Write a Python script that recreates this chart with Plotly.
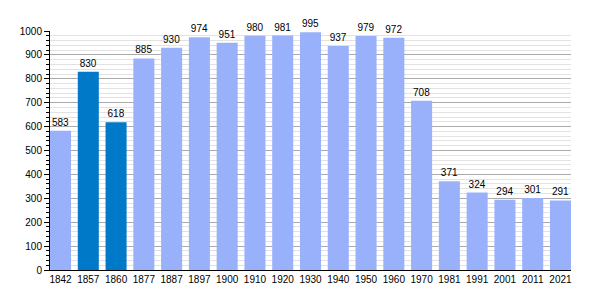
import plotly.graph_objects as go

years = ["1842", "1857", "1860", "1877", "1887", "1897", "1900", "1910", "1920", "1930",
         "1940", "1950", "1960", "1970", "1981", "1991", "2001", "2011", "2021"]
population = [583, 830, 618, 885, 930, 974, 951, 980, 981, 995,
              937, 979, 972, 708, 371, 324, 294, 301, 291]
highlight = ["1857", "1860"]

light = "#99b1fb"
dark = "#0079c8"
colors = [dark if y in highlight else light for y in years]

fig = go.Figure(go.Bar(
    x=years, y=population, marker=dict(color=colors, line=dict(width=0)),
    text=[str(v) for v in population], textposition="outside",
    textfont=dict(size=10, color="#000", family="Liberation Sans, Arial"),
    cliponaxis=False,
))

n = len(years)
wf = 0.7575
fig.update_layout(
    width=600, height=300,
    margin=dict(l=50, r=29, t=31, b=30),
    paper_bgcolor="white", plot_bgcolor="white",
    bargap=1 - wf,
    showlegend=False,
    font=dict(family="Liberation Sans, Arial", size=10, color="#000"),
    xaxis=dict(type="category", range=[-wf / 2, n - 1 + wf / 2],
               showline=True, linecolor="#000", linewidth=1,
               ticks="", showgrid=False, tickfont=dict(size=10)),
    yaxis=dict(range=[0, 1000], dtick=100, showline=True, linecolor="#000", linewidth=1,
               ticks="outside", ticklen=5, tickcolor="#000",
               gridcolor="#aaaaaa", gridwidth=1, zeroline=False,
               tickfont=dict(size=10),
               minor=dict(dtick=20, ticks="outside", ticklen=3, tickcolor="#000",
                          showgrid=True, gridcolor="#e2e2e2", gridwidth=1)),
)

fig.write_html("out.html")
